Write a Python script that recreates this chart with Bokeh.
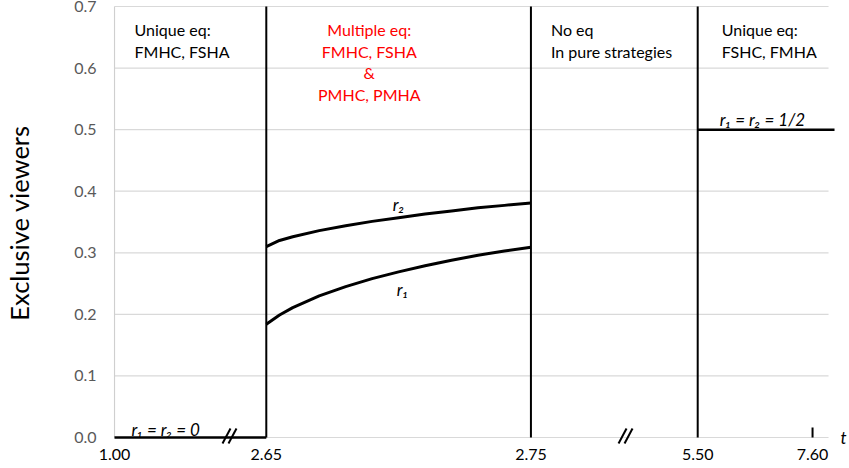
import numpy as np
from bokeh.plotting import figure
from bokeh.models import Range1d, FixedTicker, Label, NumeralTickFormatter, LinearAxis
from bokeh.embed import file_html
from bokeh.resources import INLINE

# ---------------- data ----------------
t_ticks = [1.00, 2.65, 2.75, 5.50, 7.60]
t_tick_labels = ["1.00", "2.65", "2.75", "5.50", "7.60"]
y_ticks = [0.0, 0.1, 0.2, 0.3, 0.4, 0.5, 0.6, 0.7]

t_curve = [2.65, 2.655, 2.66, 2.67, 2.68, 2.69, 2.70, 2.71, 2.72, 2.73, 2.74, 2.75]
r1_curve = [0.184, 0.199, 0.211, 0.230, 0.245, 0.258, 0.269, 0.279, 0.288, 0.296, 0.303, 0.309]
r2_curve = [0.310, 0.320, 0.326, 0.336, 0.344, 0.351, 0.357, 0.363, 0.368, 0.373, 0.377, 0.381]

t_zero = [1.00, 2.65]
r_zero = [0.0, 0.0]
t_half_start = 5.50
r_half = 0.5
t_bounds = [2.65, 2.75, 5.50]
t_breaks = [2.25, 4.31]

# ---------------- layout (broken axis) ----------------
AXIS_PX = [0, 152, 417, 584, 699]   # pixel position of each t tick along the broken axis
X_END = 736
GRID_END = 715
HALF_END = 721
PX_Y = 0.7 / 431.0                  # data units per pixel vertically


def tx(t):
    return np.interp(np.asarray(t, dtype=float), t_ticks, AXIS_PX)


FONT = "Lato"

p = figure(width=849, height=468, x_range=Range1d(-1, X_END),
           y_range=Range1d(-8 * PX_Y, 0.7 + 6 * PX_Y),
           output_backend="svg", toolbar_location=None,
           min_border_left=112, min_border_right=0, min_border_top=0, min_border_bottom=23)
p.outline_line_color = None
p.xgrid.visible = False
p.ygrid.visible = False

ax = p.yaxis[0]
ax.ticker = FixedTicker(ticks=y_ticks)
ax.formatter = NumeralTickFormatter(format="0.0")
ax.axis_line_color = None
ax.major_tick_line_color = None
ax.minor_tick_line_color = None
ax.major_tick_out = 0
ax.major_tick_in = 0
ax.major_label_text_color = "#595959"
ax.major_label_text_font = FONT
ax.major_label_text_font_size = "16px"
ax.major_label_standoff = 17

# outer axis carrying only the title
tax = LinearAxis(ticker=FixedTicker(ticks=[]), axis_line_color=None,
                 major_tick_line_color=None, minor_tick_line_color=None,
                 major_tick_out=0, major_tick_in=0, minor_tick_out=0, minor_tick_in=0,
                 major_label_standoff=0,
                 axis_label="Exclusive viewers", axis_label_text_font=FONT,
                 axis_label_text_font_size="25.5px", axis_label_text_font_style="normal",
                 axis_label_text_color="black", axis_label_standoff=38)
p.add_layout(tax, "left")

xa = p.xaxis[0]
x_tick_pos = [float(v) for v in tx(t_ticks)]
xa.ticker = FixedTicker(ticks=x_tick_pos)
xa.major_label_overrides = dict(zip(x_tick_pos, t_tick_labels))
xa.axis_line_color = None
xa.major_tick_line_color = None
xa.minor_tick_line_color = None
xa.major_tick_out = 0
xa.major_tick_in = 0
xa.major_label_text_color = "black"
xa.major_label_text_font = FONT
xa.major_label_text_font_size = "16px"
xa.major_label_standoff = 3

# gridlines + axis lines
p.segment(x0=0, x1=GRID_END, y0=y_ticks, y1=y_ticks, line_color="#d9d9d9", line_width=1.2)
p.segment(x0=[0], x1=[0], y0=[0], y1=[0.7], line_color="#cfcfcf", line_width=1.2)

# black lines
p.line(tx(t_zero), r_zero, line_color="black", line_width=2.5)
p.line(tx(t_curve), r1_curve, line_color="black", line_width=3)
p.line(tx(t_curve), r2_curve, line_color="black", line_width=3)
p.segment(x0=tx(t_bounds), x1=tx(t_bounds), y0=0, y1=0.7, line_color="black", line_width=2)
p.segment(x0=tx([7.60]), x1=tx([7.60]), y0=0, y1=10 * PX_Y, line_color="black", line_width=2)
p.line([float(tx(t_half_start)), HALF_END], [r_half, r_half], line_color="black", line_width=2.5)

# axis-break marks
bx0, bx1 = [], []
for tb in t_breaks:
    cx = float(tx(tb))
    for dx in (-3, 3):
        bx0.append(cx + dx - 4)
        bx1.append(cx + dx + 4)
p.segment(x0=bx0, x1=bx1, y0=-6 * PX_Y, y1=9 * PX_Y, line_color="black", line_width=2)


def lab(x, y, text, xo=0, yo=0, align="left", color="black", italic=False, size="16px",
        baseline="alphabetic"):
    p.add_layout(Label(x=x, y=y, x_offset=xo, y_offset=yo, text=text, text_align=align,
                       text_baseline=baseline, text_font=FONT, text_font_size=size,
                       text_color=color, text_font_style="italic" if italic else "normal"))


lab(X_END, 0.0, "t", xo=-9, yo=0, italic=True, size="17px", baseline="middle")

# region annotations
x0 = float(tx(1.00))
x1 = float(tx(2.65))
x2 = float(tx(2.75))
x3 = float(tx(5.50))
lab(x0, 0.7, "Unique eq:", xo=20, yo=-23)
lab(x0, 0.7, "FMHC, FSHA", xo=20, yo=-45)
RED = "#ff0000"
lab(x1, 0.7, "Multiple eq:", xo=103, yo=-23, align="center", color=RED)
lab(x1, 0.7, "FMHC, FSHA", xo=103, yo=-45, align="center", color=RED)
lab(x1, 0.7, "&", xo=103, yo=-66, align="center", color=RED)
lab(x1, 0.7, "PMHC, PMHA", xo=103, yo=-88, align="center", color=RED)
lab(x2, 0.7, "No eq", xo=20, yo=-23)
lab(x2, 0.7, "In pure strategies", xo=20, yo=-45)
lab(x3, 0.7, "Unique eq:", xo=24, yo=-23)
lab(x3, 0.7, "FSHC, FMHA", xo=24, yo=-45)

lab(x0, 0.0, "r\u2081 = r\u2082 = 0", xo=17, yo=8, italic=True, size="17px")
lab(x3, r_half, "r\u2081 = r\u2082 = 1/2", xo=22, yo=10, italic=True, size="17px")
lab(float(tx(2.70)), r2_curve[6], "r\u2082", yo=13, align="center", italic=True, size="17px")
lab(float(tx(2.70)), r1_curve[6], "r\u2081", xo=4, yo=-18, align="center", italic=True, size="17px")

open("out.html", "w").write(file_html(p, INLINE))
